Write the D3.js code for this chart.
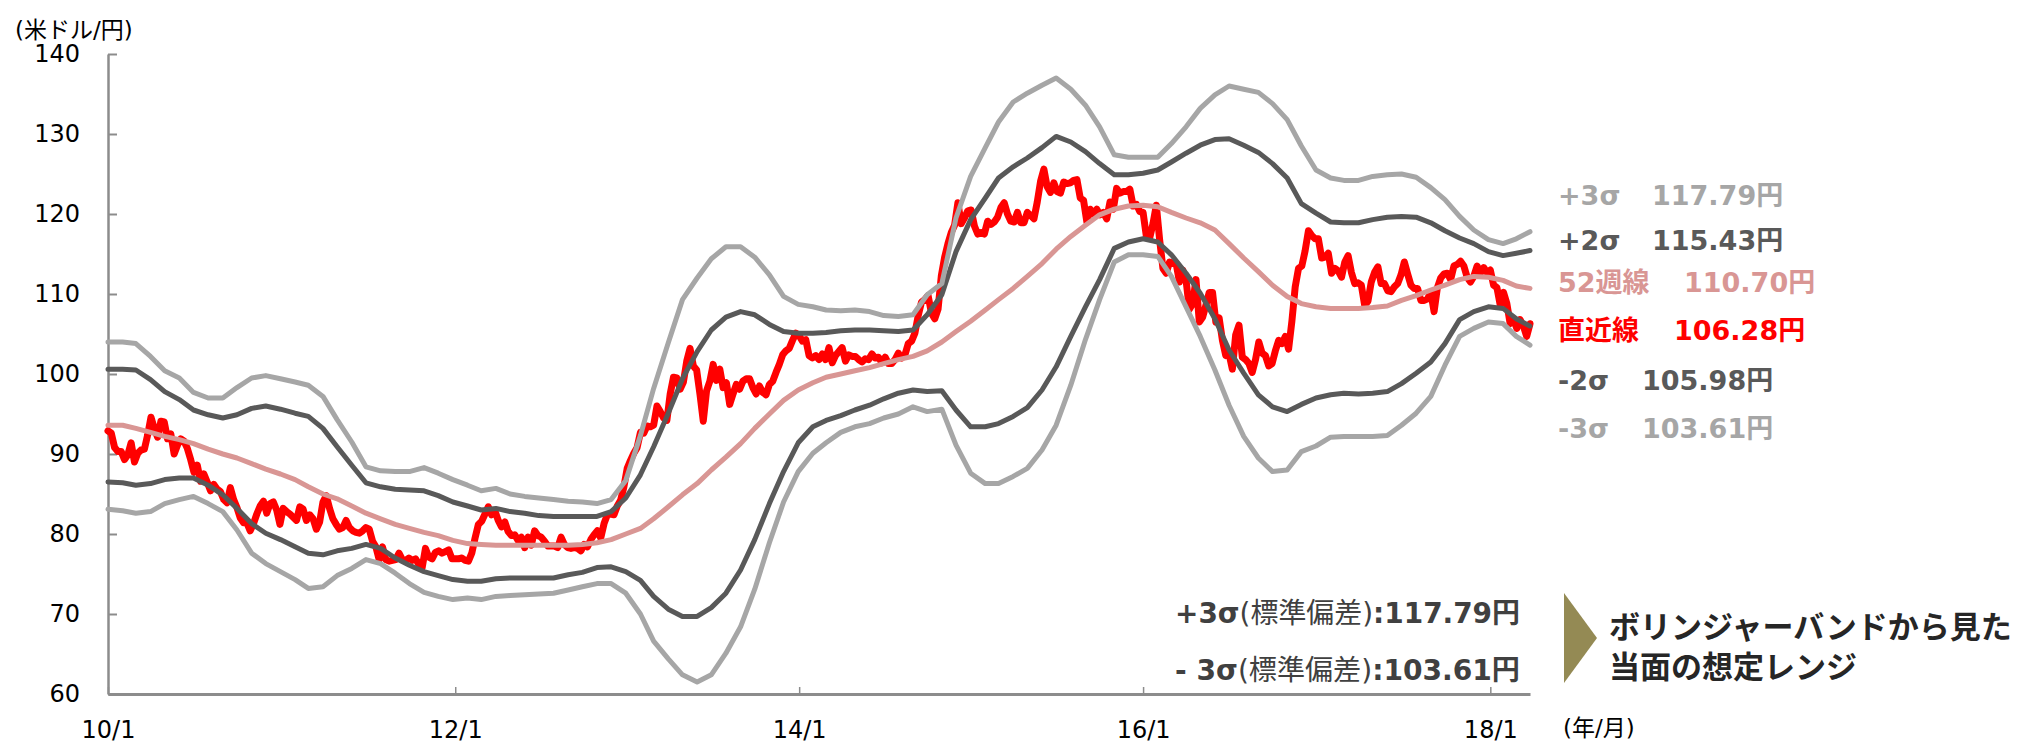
<!DOCTYPE html>
<html lang="ja">
<head>
<meta charset="utf-8">
<title>ドル円 ボリンジャーバンド</title>
<script src="https://cdn.jsdelivr.net/npm/d3@7"></script>
<style>
  body { margin: 0; background: #fff; }
  svg text { font-family: "DejaVu Sans", "Noto Sans CJK JP", sans-serif; }
</style>
</head>
<body>
<div id="chart"></div>
<script>
// Weekly close (直近線), one array per year, Fridays from 2010-01-01
const close2010 = [92.9, 92.6, 90.8, 90.3, 90.3, 89.3, 89.9, 91.4, 89.0, 90.1, 90.5, 90.6, 92.4,
  94.6, 93.2, 92.1, 94.1, 94.0, 91.9, 92.5, 90.0, 91.1, 91.9, 91.6, 90.7, 89.3,
  87.7, 88.6, 86.6, 87.5, 86.5, 85.4, 86.2, 85.6, 85.3, 84.3, 83.9, 85.8, 84.3,
  83.3, 82.0, 81.4, 81.4, 80.4, 81.3, 82.5, 83.5, 84.1, 82.6, 83.8, 84.0, 83.0, 81.2];
const close2011 = [83.2, 82.8, 82.5, 82.1, 81.7, 83.4, 83.1, 81.7, 82.4, 81.9, 80.6, 81.5,
  84.0, 84.8, 83.2, 81.9, 81.2, 80.6, 80.8, 81.7, 80.8, 80.4, 80.2, 80.1, 80.4,
  80.8, 80.6, 79.1, 78.4, 76.8, 78.4, 76.8, 76.6, 76.7, 76.8, 77.6, 76.8, 76.7, 77.0,
  76.7, 76.9, 76.2, 75.8, 78.2, 77.1, 76.9, 77.7, 77.9, 77.6, 77.8, 78.0, 76.9];
const close2012 = [76.9, 76.9, 77.0, 76.7, 76.6, 77.6, 79.5, 81.2, 81.6, 82.5, 83.4, 82.4, 82.9,
  81.7, 80.9, 81.5, 80.3, 79.8, 79.9, 79.2, 79.6, 78.3, 79.6, 78.6, 80.4, 79.8,
  79.6, 79.1, 78.5, 78.5, 78.5, 78.3, 79.6, 78.7, 78.3, 78.2, 78.3, 78.2, 77.9,
  78.7, 78.4, 79.3, 79.9, 80.4, 79.5, 81.3, 82.4, 82.5, 82.4, 83.5, 84.2, 85.9];
const close2013 = [88.2, 89.2, 90.1, 90.8, 92.7, 92.6, 93.5, 93.4, 93.6, 96.0, 95.3, 94.5, 94.2,
  97.5, 99.6, 99.5, 98.1, 99.0, 101.6, 103.2, 101.0, 100.5, 97.5, 94.1, 97.9, 99.1,
  101.2, 99.2, 100.6, 98.3, 98.9, 96.2, 97.5, 98.7, 98.1, 99.1, 99.4, 99.4, 98.3,
  97.5, 98.5, 97.7, 97.4, 98.7, 99.1, 100.2, 101.2, 102.4, 102.9, 103.2, 104.2, 105.1];
const close2014 = [104.8, 104.1, 104.3, 102.3, 102.0, 102.3, 101.8, 102.5, 101.8, 103.3, 101.4, 102.3, 102.8,
  103.3, 101.6, 102.4, 102.2, 102.2, 101.8, 101.5, 101.9, 101.8, 102.5, 102.0, 102.1, 101.4,
  102.1, 101.3, 101.3, 101.8, 102.6, 102.0, 102.4, 103.8, 104.1, 105.1, 107.3, 109.0, 109.3,
  109.8, 107.6, 106.9, 108.1, 112.3, 114.6, 116.3, 117.7, 118.6, 121.4, 118.8, 119.5, 120.4];
const close2015 = [120.5, 118.5, 117.5, 117.7, 117.5, 119.1, 118.7, 119.0, 119.6, 120.8, 121.4, 120.0, 119.1,
  119.0, 120.2, 118.9, 118.9, 120.2, 119.8, 119.4, 121.5, 124.1, 125.6, 123.4, 122.7, 123.9,
  122.8, 122.6, 124.0, 123.8, 123.9, 124.2, 124.3, 122.0, 121.7, 119.0, 120.6, 120.0, 120.6,
  119.9, 120.2, 119.4, 121.5, 120.6, 123.2, 122.6, 122.8, 122.8, 123.1, 121.0, 121.2, 120.3];
const close2016 = [120.2, 117.2, 117.0, 118.8, 121.1, 116.8, 113.2, 112.6, 114.0, 113.8, 113.8, 111.5, 113.0,
  111.7, 108.1, 108.8, 111.8, 106.5, 107.1, 108.6, 110.2, 110.2, 106.5, 107.0, 104.2, 102.3,
  102.5, 100.6, 104.9, 106.1, 102.1, 101.8, 101.3, 100.2, 101.8, 104.0, 102.6, 102.3, 101.0, 101.3,
  102.9, 104.2, 103.8, 104.7, 103.1, 106.6, 110.9, 113.2, 113.5, 115.4, 117.9, 117.3, 116.9];
const close2017 = [116.9, 114.5, 114.6, 115.1, 112.6, 113.2, 112.9, 112.1, 114.0, 114.8, 112.7, 111.3, 111.4,
  111.1, 108.6, 109.1, 111.5, 112.7, 113.4, 111.3, 111.3, 110.4, 110.3, 110.9, 111.3, 112.4,
  114.0, 112.5, 111.1, 110.7, 110.7, 109.2, 109.2, 109.4, 110.2, 107.8, 110.8, 112.0, 112.5,
  112.6, 111.8, 113.5, 113.7, 114.1, 113.5, 112.1, 111.5, 112.2, 113.5, 112.6, 113.3, 112.7];
const close2018 = [113.0, 111.1, 110.8, 108.6, 110.2, 108.8, 106.3, 106.9, 105.7, 106.8, 106.0, 104.7, 106.28];

// Monthly readings of the bands, Jan 2010 .. Mar 2018, plus the last week
const upper3 = [104.0, 104.0, 103.8, 102.2, 100.4, 99.5, 97.7, 97.0, 97.0, 98.3,
  99.5, 99.8, 99.4, 99.0, 98.6, 97.2, 94.3, 91.5, 88.4, 87.9,
  87.8, 87.8, 88.3, 87.6, 86.8, 86.1, 85.4, 85.7, 85.0, 84.7,
  84.5, 84.3, 84.1, 84.0, 83.8, 84.3, 86.7, 92.3, 98.2, 103.9,
  109.3, 112.0, 114.4, 115.9, 115.9, 114.6, 112.4, 109.7, 108.7, 108.4,
  108.0, 107.9, 108.0, 107.8, 107.3, 107.2, 107.4, 109.9, 111.3, 119.5,
  124.7, 128.3, 131.5, 134.0, 135.1, 136.1, 137.0, 135.6, 133.6, 130.9,
  127.4, 127.1, 127.1, 127.1, 128.8, 130.9, 133.2, 134.9, 136.0, 135.6,
  135.2, 133.8, 131.8, 128.5, 125.5, 124.5, 124.2, 124.2, 124.7, 124.9,
  125.0, 124.6, 123.3, 121.8, 119.7, 118.0, 116.8, 116.3, 116.9, 117.79];
const upper2 = [100.6, 100.6, 100.5, 99.3, 97.8, 96.8, 95.5, 94.9, 94.5, 94.9,
  95.7, 96.0, 95.6, 95.1, 94.7, 93.2, 90.9, 88.6, 86.4, 85.9,
  85.6, 85.5, 85.4, 84.8, 84.0, 83.5, 83.0, 83.2, 82.8, 82.6,
  82.3, 82.2, 82.2, 82.2, 82.2, 82.8, 84.5, 87.4, 90.9, 95.1,
  99.4, 102.8, 105.5, 107.1, 107.8, 107.4, 106.2, 105.3, 105.1, 105.1,
  105.2, 105.4, 105.5, 105.5, 105.4, 105.3, 105.5, 107.4, 109.9, 115.3,
  119.3, 122.0, 124.5, 125.9, 127.0, 128.3, 129.7, 129.0, 127.8, 126.3,
  124.9, 124.9, 125.1, 125.5, 126.5, 127.6, 128.6, 129.3, 129.4, 128.6,
  127.7, 126.3, 124.5, 121.3, 120.1, 119.0, 118.9, 118.9, 119.3, 119.6,
  119.7, 119.6, 118.9, 117.9, 117.0, 116.3, 115.3, 114.8, 115.1, 115.43];
const ma52 = [93.6, 93.6, 93.2, 92.7, 92.2, 91.8, 91.3, 90.6, 90.0, 89.5,
  88.8, 88.1, 87.5, 86.8, 85.9, 85.0, 84.4, 83.5, 82.6, 81.9,
  81.2, 80.7, 80.2, 79.8, 79.2, 78.8, 78.7, 78.6, 78.6, 78.6,
  78.6, 78.6, 78.6, 78.7, 78.9, 79.3, 80.0, 80.7, 81.9, 83.4,
  84.9, 86.3, 88.0, 89.6, 91.3, 93.2, 95.0, 96.7, 98.0, 98.9,
  99.6, 100.0, 100.4, 100.8, 101.3, 101.8, 102.2, 102.9, 104.0, 105.3,
  106.6, 108.0, 109.3, 110.7, 112.2, 113.8, 115.6, 117.2, 118.6, 119.9,
  120.6, 121.0, 121.1, 120.9, 120.2, 119.5, 118.9, 118.0, 116.3, 114.5,
  112.8, 111.1, 109.7, 108.8, 108.4, 108.2, 108.2, 108.2, 108.3, 108.5,
  109.2, 109.8, 110.5, 111.1, 111.8, 112.2, 112.1, 111.7, 111.0, 110.70];
const lower2 = [86.5, 86.4, 86.1, 86.3, 86.8, 87.0, 87.0, 86.1, 84.9, 83.2,
  81.3, 80.1, 79.3, 78.4, 77.6, 77.4, 77.9, 78.2, 78.7, 78.2,
  77.0, 76.1, 75.3, 74.8, 74.3, 74.1, 74.1, 74.4, 74.5, 74.5,
  74.5, 74.5, 74.9, 75.2, 75.8, 75.9, 75.3, 74.2, 72.2, 70.6,
  69.7, 69.7, 70.8, 72.6, 75.5, 79.3, 83.8, 87.8, 91.4, 93.4,
  94.2, 94.8, 95.5, 96.1, 96.9, 97.6, 98.0, 97.8, 97.9, 95.5,
  93.4, 93.4, 93.8, 94.7, 95.8, 98.0, 100.9, 104.7, 108.4, 111.8,
  115.7, 116.5, 116.9, 116.5, 114.9, 112.6, 110.1, 106.9, 103.0, 100.1,
  97.4, 95.9, 95.3, 96.2, 97.0, 97.4, 97.6, 97.5, 97.6, 97.8,
  98.8, 100.1, 101.5, 103.8, 106.8, 107.8, 108.4, 108.2, 106.9, 105.98];
const lower3 = [83.1, 82.9, 82.6, 82.8, 83.8, 84.3, 84.7, 83.8, 82.8, 80.5,
  77.6, 76.3, 75.3, 74.3, 73.2, 73.4, 74.8, 75.7, 76.8, 76.3,
  75.1, 73.8, 72.7, 72.2, 71.8, 72.0, 71.8, 72.2, 72.3, 72.4,
  72.5, 72.6, 73.0, 73.4, 73.8, 73.8, 72.6, 70.0, 66.6, 64.4,
  62.4, 61.5, 62.4, 65.1, 68.4, 73.1, 78.9, 84.0, 87.8, 90.1,
  91.4, 92.7, 93.4, 93.8, 94.5, 95.0, 95.9, 95.3, 95.6, 91.1,
  87.6, 86.3, 86.3, 87.2, 88.2, 90.5, 93.6, 98.6, 104.3, 109.3,
  114.0, 114.9, 114.9, 114.7, 112.2, 108.4, 104.7, 100.5, 96.1, 92.2,
  89.5, 87.8, 88.0, 90.3, 91.0, 92.1, 92.2, 92.2, 92.2, 92.3,
  93.6, 95.1, 97.2, 101.1, 104.7, 105.7, 106.5, 106.3, 104.7, 103.61];

// Axis ticks
const yTicks = [60, 70, 80, 90, 100, 110, 120, 130, 140];
const xTickDates = ["2010-01-01", "2012-01-06", "2014-01-03", "2016-01-01", "2018-01-05"];
const xTickLabels = ["10/1", "12/1", "14/1", "16/1", "18/1"];

// Side legend texts
const sideNames = ["+3σ", "+2σ", "52週線", "直近線", "-2σ", "-3σ"];
const sideValues = ["117.79円", "115.43円", "110.70円", "106.28円", "105.98円", "103.61円"];

// Range note
const noteRows = [["+3σ", "(標準偏差)", ":117.79円"], ["- 3σ", "(標準偏差)", ":103.61円"]];
const noteLines = ["ボリンジャーバンドから見た", "当面の想定レンジ"];

const width = 2022, height = 746;
const margin = { top: 54, right: 492, bottom: 52, left: 108 };

const svg = d3.select("#chart")
    .append("svg")
    .attr("width", width)
    .attr("height", height);

const firstWeek = new Date(2010, 0, 1);
const lastWeek = new Date(2018, 2, 30);

const x = d3.scaleTime()
    .domain([firstWeek, lastWeek])
    .range([margin.left, width - margin.right]);

const y = d3.scaleLinear()
    .domain([60, 140])
    .range([height - margin.bottom, margin.top]);

// build point lists
const closes = [].concat(close2010, close2011, close2012, close2013, close2014,
    close2015, close2016, close2017, close2018);
const closePts = closes.map((v, i) => [d3.timeDay.offset(firstWeek, 7 * i), v]);

const bandDates = d3.timeMonths(firstWeek, new Date(2018, 2, 2)).concat([lastWeek]);
const toPts = arr => arr.map((v, i) => [bandDates[i], v]);

const line = d3.line()
    .x(d => x(d[0]))
    .y(d => y(d[1]));

// axes
const gridColor = "#8c8c8c";

const yAxis = svg.append("g")
    .attr("transform", `translate(${margin.left},0)`)
    .call(d3.axisLeft(y).tickValues(yTicks).tickSizeInner(-9).tickSizeOuter(0).tickPadding(28));
yAxis.select(".domain").attr("stroke", gridColor).attr("stroke-width", 2.5);
yAxis.selectAll(".tick line").attr("stroke", gridColor).attr("stroke-width", 2);
yAxis.selectAll("text")
    .style("font-size", "24px")
    .attr("fill", "#000")
    .style("font-family", '"DejaVu Sans", sans-serif');

const xAxis = svg.append("g")
    .attr("transform", `translate(0,${height - margin.bottom})`)
    .call(d3.axisBottom(x)
        .tickValues(xTickDates.map(d => d3.timeParse("%Y-%m-%d")(d)))
        .tickFormat((d, i) => xTickLabels[i])
        .tickSizeInner(-7).tickSizeOuter(0).tickPadding(27));
xAxis.select(".domain").attr("stroke", gridColor).attr("stroke-width", 3);
xAxis.selectAll(".tick line").attr("stroke", gridColor).attr("stroke-width", 1.5);
xAxis.selectAll("text")
    .style("font-size", "24px")
    .attr("fill", "#000")
    .style("font-family", '"DejaVu Sans", sans-serif');

svg.append("text")
    .attr("x", 15).attr("y", 38)
    .style("font-size", "23px")
    .text("(米ドル/円)");

svg.append("text")
    .attr("x", 1563).attr("y", 736)
    .style("font-size", "23px")
    .text("(年/月)");

// lines, close drawn first so the bands sit on top of it
const series = [
    { pts: closePts, color: "#ff0000", w: 7 },
    { pts: toPts(ma52), color: "#d99694", w: 5 },
    { pts: toPts(upper2), color: "#595959", w: 5 },
    { pts: toPts(lower2), color: "#595959", w: 5 },
    { pts: toPts(upper3), color: "#a6a6a6", w: 5 },
    { pts: toPts(lower3), color: "#a6a6a6", w: 5 }
];

svg.append("g")
    .selectAll("path")
    .data(series)
    .enter().append("path")
    .attr("d", d => line(d.pts))
    .attr("fill", "none")
    .attr("stroke", d => d.color)
    .attr("stroke-width", d => d.w)
    .attr("stroke-linejoin", "round")
    .attr("stroke-linecap", "round");

// side legend
const sideColors = ["#a6a6a6", "#595959", "#d99694", "#ff0000", "#595959", "#a6a6a6"];
const sideY = [195, 240, 282, 330, 380, 428];
const sideValX = [1652, 1652, 1684, 1674, 1642, 1642];

const side = svg.append("g")
    .style("font-size", "27px")
    .style("font-weight", "bold");
sideNames.forEach((name, i) => {
    side.append("text")
        .attr("x", 1558).attr("y", sideY[i]).attr("dy", "0.36em")
        .attr("fill", sideColors[i])
        .text(name);
    side.append("text")
        .attr("x", sideValX[i]).attr("y", sideY[i]).attr("dy", "0.36em")
        .attr("fill", sideColors[i])
        .text(sideValues[i]);
});

// range note at bottom right: pieces laid out one after another, then squeezed to fit
const noteY = [613, 670];
noteRows.forEach((row, i) => {
    const g = svg.append("g");
    let cx = 0;
    row.forEach((piece, j) => {
        const t = g.append("text")
            .attr("x", cx).attr("y", 0).attr("dy", "0.36em")
            .attr("fill", "#404040")
            .style("font-size", "28px")
            .style("font-weight", j === 1 ? "normal" : "bold")
            .text(piece);
        cx += t.node().getComputedTextLength();
    });
    g.attr("transform", `translate(1175,${noteY[i]}) scale(${345 / cx},1)`);
});

svg.append("path")
    .attr("d", "M1564,593 L1597,638 L1564,683 Z")
    .attr("fill", "#948a54");

// two-line caption kept in one text element
const caption = svg.append("text")
    .attr("y", 627)
    .attr("fill", "#262626")
    .style("font-size", "31px")
    .style("font-weight", "bold")
    .style("font-family", '"Noto Sans CJK JP", sans-serif');
noteLines.forEach((s, i) => {
    caption.append("tspan")
        .attr("x", 1609)
        .attr("dy", i === 0 ? "0.36em" : "40px")
        .text(s);
});
</script>
</body>
</html>
